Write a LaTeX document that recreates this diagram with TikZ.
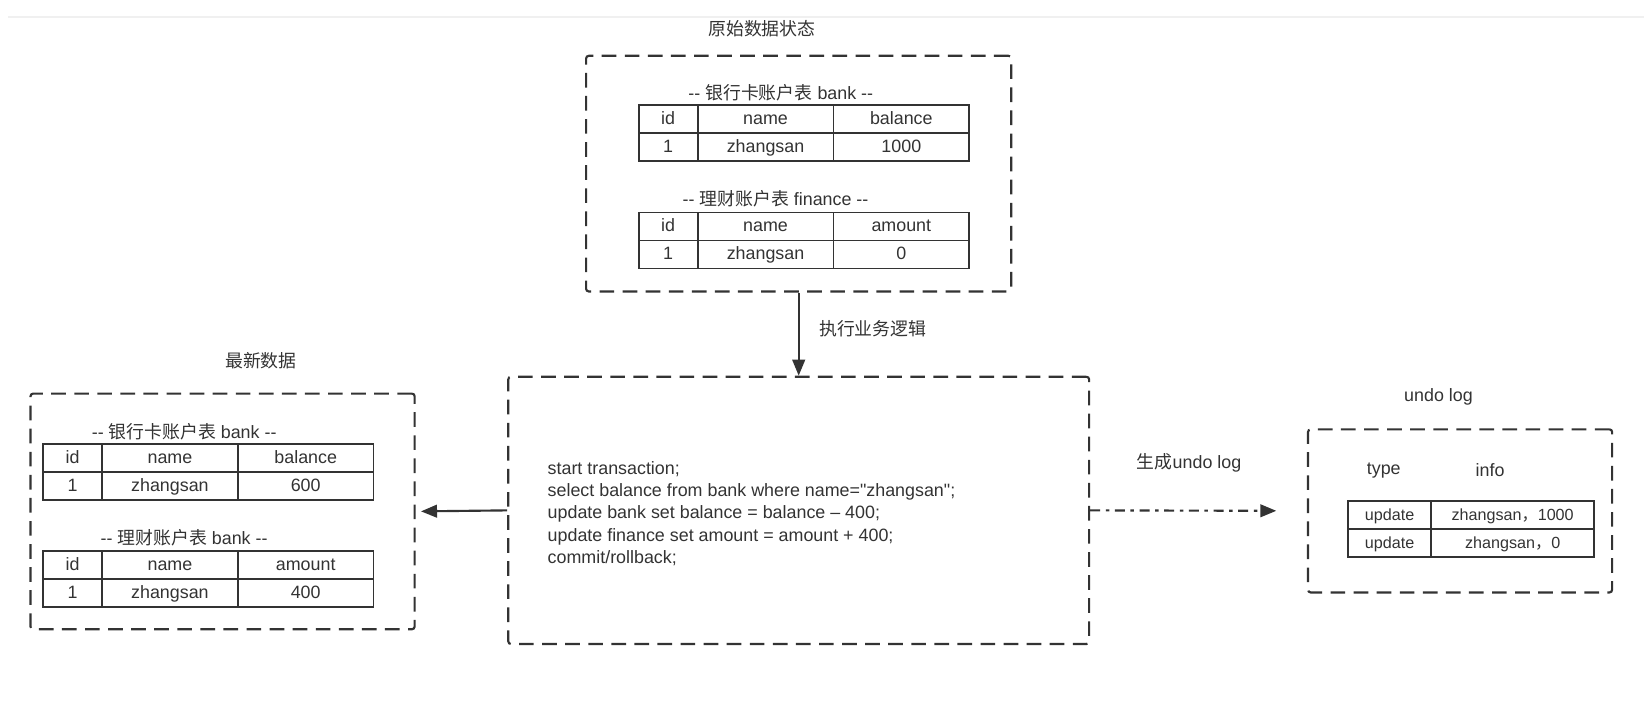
\documentclass[tikz,border=0pt]{standalone}
\usepackage{fontspec}
\setmainfont{Liberation Sans}
\newfontfamily\cjk{Noto Sans CJK SC}
\newfontfamily\rawfont{Liberation Sans}
\usetikzlibrary{arrows.meta,matrix}
\definecolor{ink}{HTML}{333333}

\begin{document}
\begin{tikzpicture}[x=0.789pt,y=0.789pt,yscale=-1,xscale=1,
  every node/.style={text=ink, font=\fontsize{13.4pt}{16.6pt}\selectfont},
  dbox/.style={draw=ink, line width=1.6pt, dash pattern=on 11pt off 6.3pt, rounded corners=2pt, inner sep=0pt},
  tbl/.style={matrix of nodes, column sep=-1.3pt, row sep=-1.3pt,
    nodes={draw=ink, line width=1.3pt, minimum height=21pt, inner sep=0pt, anchor=center,
      text height=0.9em, text depth=0.1em}},
  acct/.style={tbl, column 1/.style={nodes={minimum width=44.2pt}},
    column 2/.style={nodes={minimum width=101.8pt}}, column 3/.style={nodes={minimum width=101.8pt}}},
  arr/.style={draw=ink, line width=1.6pt, -{Triangle[length=12pt,width=9.5pt]}}
]
\useasboundingbox (0,0) rectangle (1568,675);
\draw [black!6, line width=2pt] (8,16) -- (1562,16);

% original data
\node (origtitle) at (724,27) {\cjk 原始数据状态};
\node [dbox, minimum width=318.8pt, minimum height=176.7pt] (orig) at (759,165) {};
\node (bank0cap) at (742,88) {-{}- {\cjk 银行卡账户表} bank -{}-};
\matrix [acct] (bank0) at (764,126.5) {id & name & balance\\ 1 & zhangsan & 1000\\};
\node (fin0cap) at (737,189) {-{}- {\cjk 理财账户表} finance -{}-};
\matrix [acct] (fin0) at (764,228.5) {id & name & amount\\ 1 & zhangsan & 0\\};

% transaction
\node [dbox, minimum width=435.5pt, minimum height=200.4pt] (txn) at (759,485) {};
\node [anchor=west, align=left] (sql) at (516,488) {start transaction;\\
  select balance from bank where name={\rawfont"}zhangsan{\rawfont"};\\
  update bank set balance = balance -- 400;\\
  update finance set amount = amount + 400;\\
  commit/rollback;};
\draw [arr] (orig.south) -- (txn.north);
\node [anchor=west] (runlbl) at (774,312) {\cjk 执行业务逻辑};

% latest data
\node (newtitle) at (248,343) {\cjk 最新数据};
\node [dbox, minimum width=288pt, minimum height=176.7pt] (latest) at (211.5,486) {};
\node (bank1cap) at (175,410) {-{}- {\cjk 银行卡账户表} bank -{}-};
\matrix [acct] (bank1) at (198,448.5) {id & name & balance\\ 1 & zhangsan & 600\\};
\node (fin1cap) at (175,511) {-{}- {\cjk 理财账户表} bank -{}-};
\matrix [acct] (fin1) at (198,550) {id & name & amount\\ 1 & zhangsan & 400\\};
\draw [arr, shorten >=4pt] (txn.west) -- (latest.east);

% undo log
\node (undotitle) at (1367,377) {undo log};
\node [dbox, minimum width=228pt, minimum height=122.3pt] (undo) at (1387.5,485.5) {};
\node (typehd) at (1315,447) {type};
\node (infohd) at (1416,447) {info};
\matrix [tbl, column 1/.style={nodes={minimum width=62.3pt}}, column 2/.style={nodes={minimum width=122.3pt}},
  nodes={font=\fontsize{12.1pt}{14.5pt}\selectfont}] (undotbl) at (1398,503)
  {update & zhangsan{\cjk ，}1000\\ update & zhangsan{\cjk ，}0\\};
\draw [arr, dash pattern=on 7.5pt off 4.2pt on 2.6pt off 4.2pt, shorten >=23pt] (txn.east) -- (undo.west);
\node (genlbl) at (1130,440) {{\cjk 生成}undo log};

\end{tikzpicture}
\end{document}
